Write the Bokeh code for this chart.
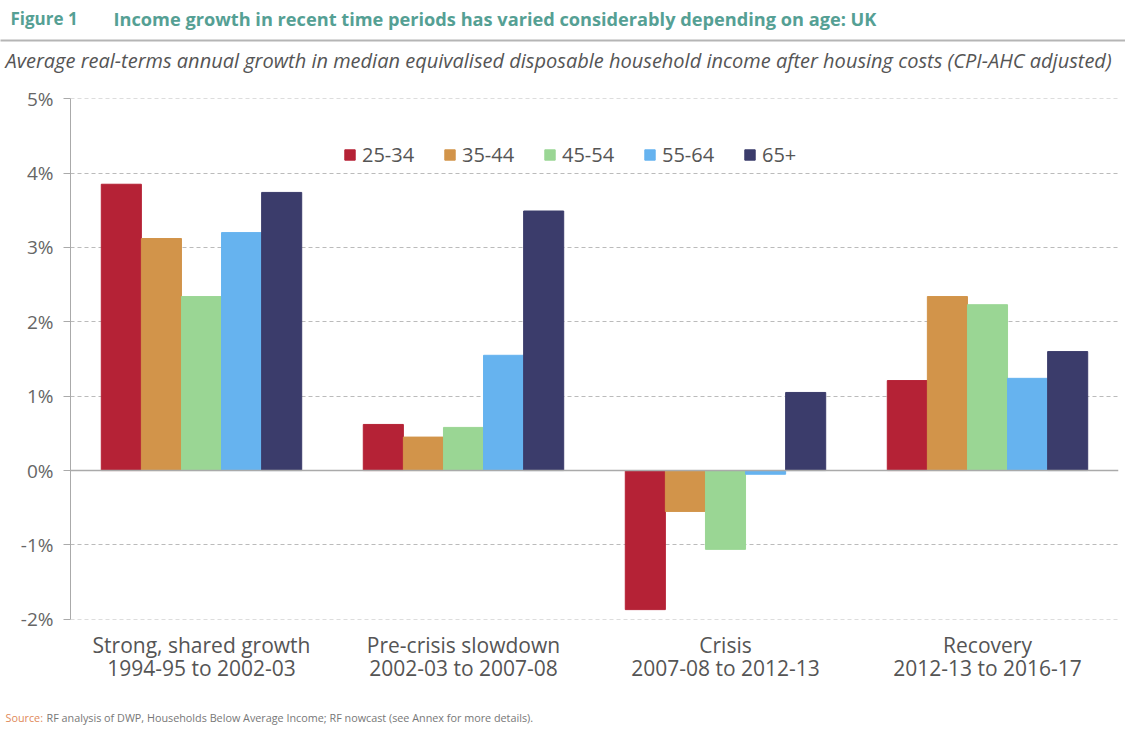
from bokeh.plotting import figure
from bokeh.models import (FixedTicker, PrintfTickFormatter, Span, Range1d,
                          Legend, LegendItem)
from bokeh.layouts import column
from bokeh.core.properties import value
from bokeh.transform import dodge
from bokeh.embed import file_html
from bokeh.resources import INLINE

periods = ["Strong, shared growth\n1994-95 to 2002-03",
           "Pre-crisis slowdown\n2002-03 to 2007-08",
           "Crisis\n2007-08 to 2012-13",
           "Recovery\n2012-13 to 2016-17"]
ages = ["25-34", "35-44", "45-54", "55-64", "65+"]
v_25_34 = [3.85, 0.62, -1.87, 1.21]
v_35_44 = [3.12, 0.45, -0.55, 2.34]
v_45_54 = [2.34, 0.58, -1.06, 2.23]
v_55_64 = [3.20, 1.55, -0.05, 1.24]
v_65p = [3.74, 3.49, 1.05, 1.60]
series = [v_25_34, v_35_44, v_45_54, v_55_64, v_65p]
colors = ["#B52236", "#D2944A", "#9AD694", "#66B3EF", "#3B3C6B"]
y_ticks = [-2, -1, 0, 1, 2, 3, 4, 5]

title_fig = "Figure 1"
title_text = "Income growth in recent time periods has varied considerably depending on age: UK"
subtitle = ("Average real-terms annual growth in median equivalised disposable household "
            "income after housing costs (CPI-AHC adjusted)")
source_lead = "Source:"
source_text = "RF analysis of DWP, Households Below Average Income; RF nowcast (see Annex for more details)."

FONT = "Open Sans"
W = 1125
BL, BR = 70, 7
HEAD_H, MAIN_H, FOOT_H = 80, 620, 31


def blank(h):
    # frame aligned with the main chart; data x equals page x
    f = figure(width=W, height=h, x_range=Range1d(BL, W - BR), y_range=Range1d(h, 0),
               output_backend="svg", toolbar_location=None,
               min_border_left=BL, min_border_right=BR, min_border_top=0, min_border_bottom=0)
    f.axis.visible = False
    f.grid.visible = False
    f.outline_line_color = None
    return f


# header
head = blank(HEAD_H)
head.text(x=[10], y=[18], text=[title_fig], text_font=value(FONT), text_font_style="bold",
          text_font_size="17px", text_color="#55A094", text_baseline="middle", level="overlay")
head.text(x=[113], y=[18], text=[title_text], text_font=value(FONT), text_font_style="bold",
          text_font_size="18.2px", text_color="#55A094", text_baseline="middle", level="overlay")
head.segment(x0=[0], y0=[40], x1=[W], y1=[40], line_color="#b5b5b5", line_width=2,
             level="overlay")
head.text(x=[5], y=[60], text=[subtitle], text_font=value(FONT), text_font_style="italic",
          text_font_size="20px", text_color="#555555", text_baseline="middle", level="overlay")

# main chart
p = figure(width=W, height=MAIN_H, x_range=periods, y_range=(-2.003, 5.003),
           output_backend="svg", toolbar_location=None,
           min_border_left=BL, min_border_right=BR, min_border_top=18, min_border_bottom=81)
p.outline_line_color = None

bw = 0.153
offsets = [-2 * bw, -bw, 0, bw, 2 * bw]
items = []
for name, vals, col, off in zip(ages, series, colors, offsets):
    r = p.vbar(x=dodge("x", off, range=p.x_range), top="top", bottom=0, width=bw,
               source=dict(x=periods, top=vals), fill_color=col, line_color=col)
    items.append(LegendItem(label=name, renderers=[r]))

legend = Legend(items=items, orientation="horizontal", location=(273, 451),
                glyph_width=13, glyph_height=13, label_standoff=6, label_width=68,
                spacing=13, padding=0, margin=0, border_line_color=None,
                background_fill_alpha=0, label_text_font=FONT,
                label_text_font_size="20px", label_text_color="#555555")
p.add_layout(legend, "center")

p.yaxis.ticker = FixedTicker(ticks=y_ticks)
p.yaxis.formatter = PrintfTickFormatter(format="%d%%")
p.yaxis.axis_line_color = "#aaaaaa"
p.yaxis.major_tick_line_color = "#aaaaaa"
p.yaxis.major_tick_out = 7
p.yaxis.major_tick_in = 0
p.yaxis.minor_tick_line_color = None
p.yaxis.major_label_text_font = FONT
p.yaxis.major_label_text_font_size = "19px"
p.yaxis.major_label_text_color = "#666666"
p.yaxis.major_label_standoff = 10

p.xaxis.axis_line_color = None
p.xaxis.major_tick_line_color = None
p.xaxis.minor_tick_line_color = None
p.xaxis.major_label_text_font = FONT
p.xaxis.major_label_text_font_size = "21px"
p.xaxis.major_label_text_color = "#555555"
p.xaxis.major_label_standoff = 5
p.xaxis.major_label_text_line_height = 0.85

p.xgrid.grid_line_color = None
p.ygrid.grid_line_color = "#bbbbbb"
p.ygrid.grid_line_dash = "4 3"
p.ygrid.grid_line_width = 1

p.add_layout(Span(location=0, dimension="width", line_color="#aaaaaa", line_width=1.5))

# footer
foot = blank(FOOT_H)
foot.text(x=[5], y=[17], text=[source_lead], text_font=value(FONT),
          text_font_size="10.8px", text_color="#E0895A", text_baseline="middle", level="overlay")
foot.text(x=[46], y=[17], text=[source_text], text_font=value(FONT),
          text_font_size="10.8px", text_color="#777777", text_baseline="middle", level="overlay")

layout = column(head, p, foot, spacing=0)
open("out.html", "w").write(file_html(layout, INLINE))
